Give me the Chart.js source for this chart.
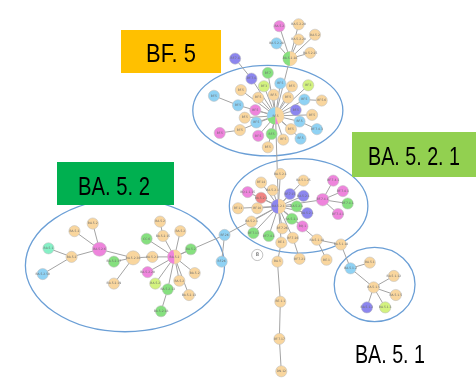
<!DOCTYPE html>
<html>
<head>
<meta charset="utf-8">
<script src="https://cdn.jsdelivr.net/npm/chart.js@4.4.1/dist/chart.umd.min.js"></script>
<style>
  html, body { margin: 0; padding: 0; background: #ffffff; }
  #wrap { width: 476px; height: 387px; position: relative; }
</style>
</head>
<body>
<div id="wrap"><canvas id="net"></canvas></div>
<script>
// Haplotype network of Omicron sub-lineages.
// Node coordinates (layout units), lineage colour group, label and sequence count.
const nodeX = [292,281,301,318,301,278,313,235,
  277,269,252,282,265,294,311,241,213,259,275,290,307,325,238,256,298,315,245,257,302,320,240,293,219,259,273,285,303,269,
  280,282,306,262,274,248,262,292,306,238,258,299,326,337,347,352,342,310,252,294,284,305,254,270,295,283,320,345,
  279,258,302,330,282,281,283,
  355,375,400,379,402,372,391,
  224,221,
  172,87,68,41,65,35,94,129,109,109,149,144,157,160,143,178,189,193,152,177,165,187,158];
const nodeY = [52,18,16,27,32,36,46,52,
  112,67,73,78,81,81,80,85,91,93,90,93,95,96,101,106,106,111,114,119,118,126,127,126,130,133,131,137,136,145,
  207,173,180,182,190,192,198,194,196,209,209,207,200,180,191,204,215,214,223,220,230,228,235,238,240,245,242,247,
  265,258,262,263,307,346,380,
  272,266,280,292,300,313,313,
  237,265,
  260,225,233,251,260,278,252,261,265,288,260,276,223,238,241,233,252,277,288,285,294,300,317];
const nodeGroup = ['or','pk','or','or','or','bl','or','pu',
  'or','gr','pu','bl','lg','or','lg','or','bl','or','or','or','bl','or','bl','pk','pu','or','or','bl','bl','bl','or','or','pk','pk','gr','or','bl','or',
  'or','or','or','or','or','pk','rd','pu','pu','or','or','gr','pk','pk','pk','gr','pk','pu','or','gr','or','pk','gr','gr','or','or','or','or',
  'or','wh','or','or','or','or','or',
  'bl','or','or','or','or','pu','lg',
  'bl','bl',
  'or','or','or','mt','or','bl','pk','or','gr','or','or','pk','or','or','gr','or','gr','or','lg','or','gr','or','gr'];
const nodeLabel = ['BA.5.2.28','BA.5.2','BA.5.2.20','BA.5.2','BA.5.2.20','BA.5.2.28','BA.5.2.25','BF.7.4',
  'BF.5','BF.7','BF.7.4','BF.5','BF.3','BF.5','BF.3','BF.5','BF.5','BF.5','BF.5','BF.5','BF.5','BF.5.6','BF.5','BF.5','BF.5','BF.5','BF.5','BF.5','BF.5','BF.7.4.3','BF.5','BF.5','BF.5','BF.5','BF.5','BF.5','BF.5','BF.5',
  'BA.5.2.1','BA.5.2.1','BA.5.1.25','BF.14','BA.5.2.1','BQ.1.1.15','BA.5.2.1','BF.7.15','BA.5.2.1','BF.11','BF.10','BA.5.2.1','BF.7.4.1','BF.7.4.1','BF.7.4.1','BF.7.4.1','BF.7.4.1','BA.5.2.1','BA.5.2.1','BA.5.2.1','BF.7.26','BQ.1','BF.7.13','BF.7.4.1','BF.7.26','BE.1','BA.5.1.18','BA.5.1.18',
  'BA.5','8','BF.7.21','BE.1','BE.1.1','BF.7.17','DN.12',
  'BA.5.1.2','BA.5.1','BA.5.1.12','BA.5.1.5','BA.5.1.5','BA.5.1.2','BA.5.1.3',
  'BF.26','BF.26',
  'BA.5.2','BA.5.2','BA.5.2','BA.5.1','BA.5.2','BA.5.2.50','BA.5.2.6','BA.5.2.36','BA.5.2.37','BA.5.2.19','BA.5.2.1','BA.5.2.20','BA.5.2','BA.5.2.15','CC.6','BA.5.2','BA.5.2','BA.5.2','BA.5.2','BA.5.2','BA.5.2.13','BA.5.2.13','BA.5.2.18'];
const nodeCount = [6,1,1,1,1,1,1,1,
  20,1,1,1,1,1,1,1,1,1,1,1,1,1,1,1,1,1,1,1,1,1,1,1,1,1,1,1,1,1,
  7,1,1,1,1,1,1,1,1,1,1,1,2,1,1,1,1,1,1,1,1,1,1,1,1,1,1,1,
  1,1,1,1,1,1,1,
  1,1,1,1,1,1,1,
  1,1,
  5,1,1,1,1,1,6,6,1,1,1,1,1,1,1,1,1,1,1,1,1,1,1];

// Links between haplotypes (pairs of node indices).
const edges = [
  [0,1],[0,2],[0,3],[0,4],[0,5],[0,6],[0,8],[7,10],
  [8,9],[8,10],[8,11],[8,12],[8,13],[8,14],[8,15],[8,17],[8,18],[8,19],[8,20],[20,21],[16,22],[8,22],[8,23],[8,24],
  [8,25],[8,26],[8,27],[8,28],[28,29],[8,30],[30,32],[8,31],[8,33],[8,34],[8,35],[8,36],[8,37],[8,38],
  [38,39],[38,40],[38,41],[38,42],[38,43],[38,44],[38,45],[38,46],[38,47],[38,48],[38,49],[38,50],[50,51],[50,52],
  [50,53],[50,54],[38,55],[38,56],[38,57],[38,58],[38,59],[38,60],[38,61],[38,62],[38,63],[38,64],[64,65],[63,66],
  [66,70],[70,71],[71,72],[62,68],[64,69],[65,73],
  [73,74],[73,76],[76,75],[76,77],[76,78],[76,79],
  [38,80],[80,81],[80,82],
  [82,92],[92,89],[89,88],[88,83],[88,84],[88,86],[86,85],[86,87],[89,90],[89,91],[82,93],[82,95],[95,94],
  [82,96],[82,97],[82,98],[82,99],[82,100],[82,101],[82,102],[102,104],[82,103]
];

// Mixed-lineage haplotypes: share of each lineage group.
const mixNodes = [0, 8, 38, 82];
const mixShares = [
  [['gr',1],['or',1]],
  [['gr',0.2],['bl',0.3],['or',0.45],['pk',0.05]],
  [['pu',1],['or',1]],
  [['pk',1],['or',1.1]]
];

// Cluster names.
const clusterNames = ['BF. 5', 'BA. 5. 2. 1', 'BA. 5. 2', 'BA. 5. 1'];

// ---- styling ----
const groupColor = {
  or: '#f9d69e', bl: '#8fd2f4', gr: '#86e07f', pk: '#ee84dc', pu: '#8c86ee',
  lg: '#d3f27f', mt: '#86f0c6', rd: '#f08584', wh: '#ffffff'
};
const radiusOf = c => 5.6 + 0.65 * Math.sqrt(c - 1);

const nodePoints = nodeX.map((x, i) => ({ x: x, y: nodeY[i] }));

const edgeSets = edges.map(([a, b]) => ({
  type: 'line',
  data: [nodePoints[a], nodePoints[b]],
  borderColor: '#a3a3a3',
  borderWidth: 1,
  pointRadius: 0,
  showLine: true,
  fill: false,
  clip: false
}));

const clusterStyle = {
  ellipses: [
    { cx: 269, cy: 106.5, rx: 78, ry: 47.5 },
    { cx: 301, cy: 206.5, rx: 72, ry: 49.5 },
    { cx: 120.5, cy: 269, rx: 103.5, ry: 69.5 },
    { cx: 380, cy: 289, rx: 42, ry: 39 }
  ],
  boxes: [
    { x0: 121, y0: 30, x1: 221, y1: 73, fill: '#ffc000', tx: 171, ty: 62, w: 50 },
    { x0: 352, y0: 132, x1: 476, y1: 177, fill: '#92d050', tx: 414, ty: 165, w: 92 },
    { x0: 57, y0: 162, x1: 174, y1: 205, fill: '#00b050', tx: 114, ty: 195, w: 72 },
    { x0: null, tx: 390, ty: 363, w: 70 }
  ]
};

const networkPlugin = {
  id: 'network',
  beforeDatasetsDraw(chart) {
    const { ctx, scales: { x, y } } = chart;
    ctx.save();
    ctx.strokeStyle = '#6b9fd6';
    ctx.lineWidth = 1.3;
    clusterStyle.ellipses.forEach(e => {
      const cx = x.getPixelForValue(e.cx), cy = y.getPixelForValue(e.cy);
      const rx = Math.abs(x.getPixelForValue(e.cx + e.rx) - cx);
      const ry = Math.abs(y.getPixelForValue(e.cy + e.ry) - cy);
      ctx.beginPath();
      ctx.ellipse(cx, cy, rx, ry, 0, 0, Math.PI * 2);
      ctx.stroke();
    });
    ctx.restore();
  },
  afterDatasetsDraw(chart) {
    const { ctx } = chart;
    const meta = chart.getDatasetMeta(0);
    ctx.save();
    // pie slices on mixed nodes
    mixNodes.forEach((ni, k) => {
      const el = meta.data[ni];
      const r = radiusOf(nodeCount[ni]);
      const total = mixShares[k].reduce((s, p) => s + p[1], 0);
      let a = Math.PI / 2;
      mixShares[k].forEach(([g, v]) => {
        const b = a + (v / total) * Math.PI * 2;
        ctx.beginPath();
        ctx.moveTo(el.x, el.y);
        ctx.arc(el.x, el.y, r, a, b);
        ctx.closePath();
        ctx.fillStyle = groupColor[g];
        ctx.fill();
        a = b;
      });
    });
    // node labels
    ctx.textAlign = 'center';
    ctx.textBaseline = 'middle';
    meta.data.forEach((el, i) => {
      const white = nodeGroup[i] === 'wh';
      ctx.fillStyle = white ? '#333333' : '#6d6d6d';
      ctx.font = (white ? '5px' : '3px') + ' "DejaVu Sans", sans-serif';
      ctx.fillText(nodeLabel[i], el.x, el.y);
    });
    // cluster boxes and names
    clusterStyle.boxes.forEach((b, i) => {
      if (b.x0 !== null) {
        ctx.fillStyle = b.fill;
        ctx.fillRect(b.x0, b.y0, b.x1 - b.x0, b.y1 - b.y0);
      }
      ctx.font = '25px "Liberation Sans", sans-serif';
      ctx.textAlign = 'left';
      ctx.textBaseline = 'alphabetic';
      const m = ctx.measureText(clusterNames[i]).width;
      const s = b.w / m;
      ctx.save();
      ctx.translate(b.tx - b.w / 2, b.ty);
      ctx.scale(s, 1);
      ctx.fillStyle = '#000000';
      ctx.fillText(clusterNames[i], 0, 0);
      ctx.restore();
    });
    ctx.restore();
  }
};

new Chart(document.getElementById('net'), {
  type: 'scatter',
  data: {
    datasets: [
      {
        data: nodePoints,
        pointRadius: nodeCount.map(radiusOf),
        pointHoverRadius: nodeCount.map(radiusOf),
        backgroundColor: nodeGroup.map(g => groupColor[g]),
        borderColor: nodeGroup.map(g => g === 'wh' ? '#9a9a9a' : 'rgba(190,190,190,0.9)'),
        borderWidth: 0.6,
        clip: false
      },
      ...edgeSets
    ]
  },
  options: {
    responsive: true,
    maintainAspectRatio: false,
    animation: false,
    events: [],
    layout: { padding: 0 },
    plugins: { legend: { display: false }, tooltip: { enabled: false } },
    scales: {
      x: { type: 'linear', min: 0, max: 476, display: false },
      y: { type: 'linear', min: 0, max: 387, reverse: true, display: false }
    }
  },
  plugins: [networkPlugin]
});
</script>
</body>
</html>
